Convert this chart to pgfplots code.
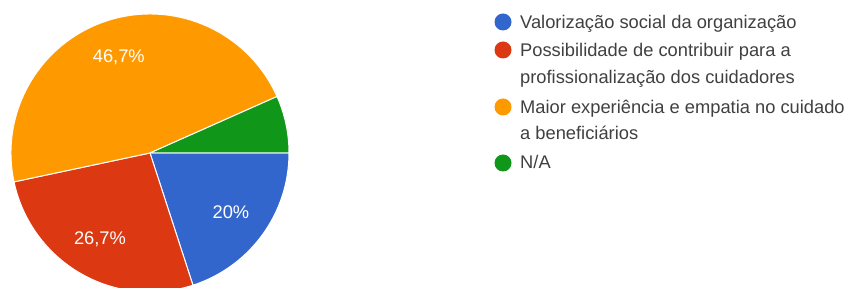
\documentclass[border=0pt]{standalone}
\usepackage{pgfplots}
\pgfplotsset{compat=1.18}
\usetikzlibrary{calc}
\usepackage{fontspec}
\setmainfont{Liberation Sans}
\definecolor{cblue}{HTML}{3366CC}
\definecolor{cred}{HTML}{DC3912}
\definecolor{corange}{HTML}{FF9900}
\definecolor{cgreen}{HTML}{109618}
\definecolor{ctext}{HTML}{404040}
\begin{document}
\begin{tikzpicture}
% slice values (percent)
\pgfmathsetmacro\vA{20}
\pgfmathsetmacro\vB{26.67}
\pgfmathsetmacro\vC{46.67}
\pgfmathsetmacro\vD{6.66}
% cumulative angles, clockwise from 3 o'clock
\pgfmathsetmacro\aA{0}
\pgfmathsetmacro\aB{\aA-3.6*\vA}
\pgfmathsetmacro\aC{\aB-3.6*\vB}
\pgfmathsetmacro\aD{\aC-3.6*\vC}
\pgfmathsetmacro\aE{\aD-3.6*\vD}
\pgfmathsetmacro\mA{(\aA+\aB)/2}
\pgfmathsetmacro\mB{(\aB+\aC)/2}
\pgfmathsetmacro\mC{(\aC+\aD)/2}
\begin{axis}[hide axis, scale only axis, width=848bp, height=288bp,
  xmin=0, xmax=848, ymin=0, ymax=288, clip=true]
\fill[cblue, draw=white, line width=1bp] (axis cs:150,135) -- ++(\aA:139bp) arc[start angle=\aA, end angle=\aB, radius=139bp] -- cycle;
\fill[cred, draw=white, line width=1bp] (axis cs:150,135) -- ++(\aB:139bp) arc[start angle=\aB, end angle=\aC, radius=139bp] -- cycle;
\fill[corange, draw=white, line width=1bp] (axis cs:150,135) -- ++(\aC:139bp) arc[start angle=\aC, end angle=\aD, radius=139bp] -- cycle;
\fill[cgreen, draw=white, line width=1bp] (axis cs:150,135) -- ++(\aD:139bp) arc[start angle=\aD, end angle=\aE, radius=139bp] -- cycle;
\node[white, font=\fontsize{18.3bp}{20bp}\selectfont] at ($(axis cs:150,135)+(\mA:100bp)$) {20\%};
\node[white, font=\fontsize{18.3bp}{20bp}\selectfont] at ($(axis cs:150,135)+(\mB:100bp)$) {26,7\%};
\node[white, font=\fontsize{18.3bp}{20bp}\selectfont] at ($(axis cs:150,135)+(\mC:101bp)$) {46,7\%};
% legend
\fill[cblue] (axis cs:503,266) circle[radius=8.5bp];
\fill[cred] (axis cs:503,238) circle[radius=8.5bp];
\fill[corange] (axis cs:503,181) circle[radius=8.5bp];
\fill[cgreen] (axis cs:503,125) circle[radius=8.5bp];
\begin{scope}[every node/.style={anchor=base west, inner sep=0pt, text=ctext, font=\fontsize{18.3bp}{20bp}\selectfont}]
\node at (axis cs:520,259.7) {Valorização social da organização};
\node at (axis cs:520,231.3) {Possibilidade de contribuir para a};
\node at (axis cs:520,204.7) {profissionalização dos cuidadores};
\node at (axis cs:520,174.7) {Maior experiência e empatia no cuidado};
\node at (axis cs:520,148) {a beneficiários};
\node at (axis cs:520,119.7) {N/A};
\end{scope}
\end{axis}
\pgfresetboundingbox
\useasboundingbox (0,0) rectangle (848bp,288bp);
\end{tikzpicture}
\end{document}
